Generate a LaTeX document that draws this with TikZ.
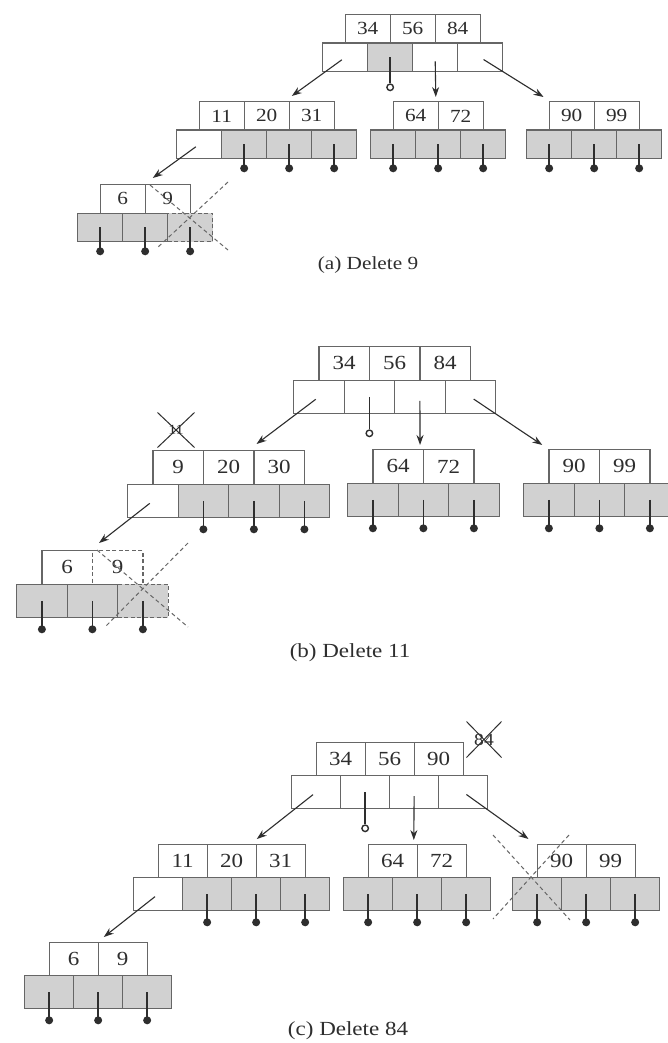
\documentclass[tikz,border=0pt]{standalone}
\usepackage{fontspec}
\setmainfont{Liberation Serif}[FakeStretch=1.15]
\usetikzlibrary{arrows.meta,shapes.misc}
\definecolor{edgegray}{gray}{0.4}
\definecolor{cellgray}{gray}{0.82}
\definecolor{inkgray}{gray}{0.18}
\tikzset{
  keycell/.style={draw=edgegray, fill=white, line width=1.3pt, inner sep=0pt,
    minimum width=\cw*1pt, minimum height=\ch*1pt, anchor=north west, text=inkgray},
  ptrcell/.style={keycell},
  wc/.style={fill=white},
  gc/.style={fill=cellgray},
  xc/.style={fill=cellgray, dash pattern=on 4pt off 2.5pt},
  kc/.style={},
  kx/.style={dash pattern=on 4pt off 2.5pt},
  dot/.style={circle, fill=inkgray, inner sep=0pt, minimum size=8pt},
  ring/.style={circle, draw=inkgray, fill=white, line width=1.4pt, inner sep=0pt, minimum size=6.5pt},
  stem/.style={line width=1.6pt, draw=inkgray},
  link/.style={line width=1.1pt, draw=inkgray, -{Stealth[length=10pt,width=7pt]}, shorten <=4pt},
  cut/.style={dash pattern=on 4pt off 3pt, draw=edgegray, line width=1pt},
  gone/.style={draw=inkgray, cross out, line width=1pt, text=inkgray, inner sep=0pt},
  caption/.style={text=inkgray}
}
% one B-tree node: name, left x of pointer row, top y of key row, keys, pointer cells
\newcommand\btnode[5]{%
  \foreach \k/\s [count=\i] in {#4}
    \node[keycell, \s] (#1k\i) at ({#2+(\i-0.5)*\cw}, #3) {\k};
  \foreach \s [count=\i] in {#5}
    \node[ptrcell, \s] (#1p\i) at ({#2+(\i-1)*\cw}, {#3+\ch}) {};
}
% data pointers hanging below the cells
\newcommand\btdots[2]{%
  \foreach \i in {#2} {
    \node[dot] (#1d\i) at ([yshift=-\dgap pt]#1p\i.south) {};
    \draw[stem] (#1p\i.center) -- (#1d\i.center);
  }
}
\begin{document}
\begin{tikzpicture}[x=1pt, y=-1pt]
    \path[use as bounding box, fill=white] (0,0) rectangle (667,1043);

    % (a) Delete 9
    \begin{scope}[font=\fontsize{18.5}{20}\selectfont]
    \def\cw{45}\def\ch{28.5}\def\dgap{9}
    \btnode{aR}{322}{14}{34/kc,56/kc,84/kc}{wc,gc,wc,wc}
    \btnode{aL}{176}{101}{11/kc,20/kc,31/kc}{wc,gc,gc,gc}
    \btnode{aM}{370}{101}{64/kc,72/kc}{gc,gc,gc}
    \btnode{aG}{526}{101}{90/kc,99/kc}{gc,gc,gc}
    \btnode{aF}{77}{184}{6/kc,9/kc}{gc,gc,xc}
    \btdots{aL}{2,3,4}
    \btdots{aM}{1,2,3}
    \btdots{aG}{1,2,3}
    \btdots{aF}{1,2,3}
    \node[ring] (aRo) at ([yshift=-15pt]aRp2.south) {};
    \draw[stem] (aRp2.center) -- (aRo);
    \draw[link] (aRp1.center) -- ([xshift=2pt,yshift=5pt]aLk2.north east);
    \draw[link] (aRp3.center) -- ([xshift=-3pt,yshift=4pt]aMk1.north east);
    \draw[link] (aRp4.center) -- ([xshift=-5pt,yshift=4pt]aGk1.north west);
    \draw[link] (aLp1.center) -- ([xshift=7pt,yshift=6pt]aFk1.north east);
    \draw[cut] (150,185) -- (228,250);
    \draw[cut] (228,182) -- (157,248);
    \node[caption, font=\fontsize{18.5}{20}\selectfont] (aCap) at (368,265) {(a) Delete 9};
    \end{scope}

    % (b) Delete 11
    \begin{scope}[font=\fontsize{20}{22}\selectfont]
    \def\cw{50.5}\def\ch{33.5}\def\dgap{11}
    \btnode{bR}{293}{346}{34/kc,56/kc,84/kc}{wc,wc,wc,wc}
    \btnode{bL}{127}{450}{9/kc,20/kc,30/kc}{wc,gc,gc,gc}
    \btnode{bM}{347}{449}{64/kc,72/kc}{gc,gc,gc}
    \btnode{bG}{523}{449}{90/kc,99/kc}{gc,gc,gc}
    \btnode{bF}{16}{550}{6/kc,9/kx}{gc,gc,xc}
    \btdots{bL}{2,3,4}
    \btdots{bM}{1,2,3}
    \btdots{bG}{1,2,3}
    \btdots{bF}{1,2,3}
    \node[ring] (bRo) at ([yshift=-19pt]bRp2.south) {};
    \draw[stem] (bRp2.center) -- (bRo);
    \draw[link] (bRp1.center) -- ([xshift=2pt,yshift=6pt]bLk2.north east);
    \draw[link] (bRp3.center) -- ([xshift=-4pt,yshift=4pt]bMk1.north east);
    \draw[link] (bRp4.center) -- ([xshift=-6pt,yshift=4pt]bGk1.north west);
    \draw[link] (bLp1.center) -- ([xshift=6pt,yshift=7pt]bFk1.north east);
    \node[gone, minimum width=36pt, minimum height=34pt, font=\fontsize{14}{14}\selectfont] (bOld) at (176,430) {11};
    \draw[cut] (97,550) -- (188,627);
    \draw[cut] (188,543) -- (105,627);
    \node[caption, font=\fontsize{20}{22}\selectfont] (bCap) at (350,653) {(b) Delete 11};
    \end{scope}

    % (c) Delete 84
    \begin{scope}[font=\fontsize{20}{22}\selectfont]
    \def\cw{49}\def\ch{33}\def\dgap{11}
    \btnode{cR}{291}{742}{34/kc,56/kc,90/kc}{wc,wc,wc,wc}
    \btnode{cL}{133}{844}{11/kc,20/kc,31/kc}{wc,gc,gc,gc}
    \btnode{cM}{343}{844}{64/kc,72/kc}{gc,gc,gc}
    \btnode{cG}{512}{844}{90/kc,99/kc}{gc,gc,gc}
    \btnode{cF}{24}{942}{6/kc,9/kc}{gc,gc,gc}
    \btdots{cL}{2,3,4}
    \btdots{cM}{1,2,3}
    \btdots{cG}{1,2,3}
    \btdots{cF}{1,2,3}
    \node[ring] (cRo) at ([yshift=-19pt]cRp2.south) {};
    \draw[stem] (cRp2.center) -- (cRo);
    \draw[link] (cRp1.center) -- ([yshift=5pt]cLk2.north east);
    \draw[link] (cRp3.center) -- ([xshift=-4pt,yshift=4pt]cMk1.north east);
    \draw[link] (cRp4.center) -- ([xshift=-8pt,yshift=5pt]cGk1.north west);
    \draw[link] (cLp1.center) -- ([xshift=5pt,yshift=5pt]cFk1.north east);
    \node[gone, minimum width=34pt, minimum height=35pt, font=\fontsize{17}{17}\selectfont] (cOld) at (484,739.5) {84};
    \draw[cut] (493,835) -- (570,920);
    \draw[cut] (569,835) -- (493,919);
    \node[caption, font=\fontsize{20}{22}\selectfont] (cCap) at (348,1031) {(c) Delete 84};
    \end{scope}
\end{tikzpicture}
\end{document}
